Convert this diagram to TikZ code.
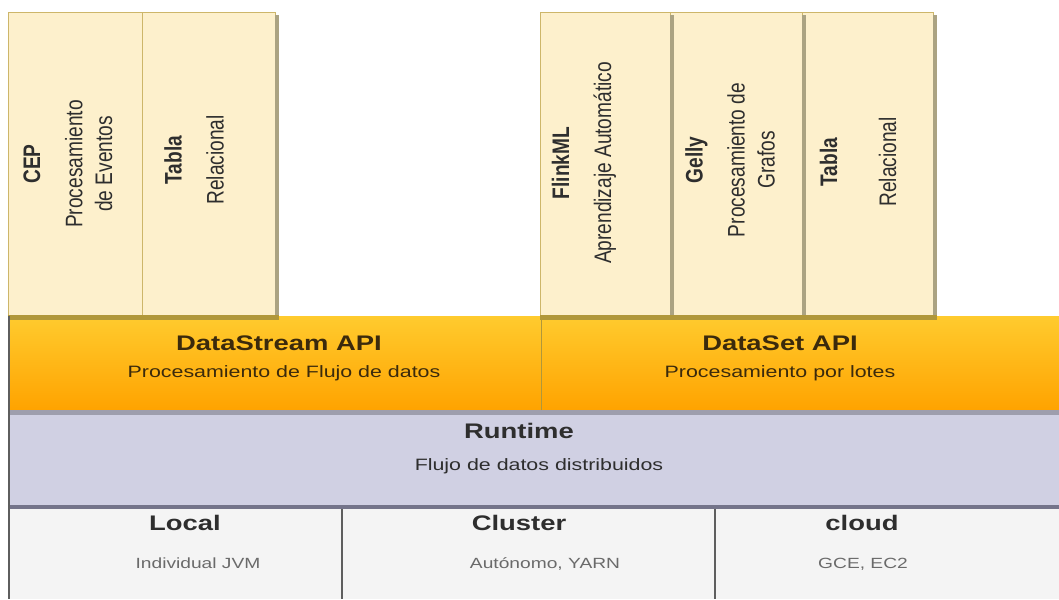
\documentclass[tikz,border=0pt]{standalone}
\usepackage{fontspec}
\setmainfont{Liberation Sans}
\newfontfamily\flatfont[FakeStretch=1.3]{Liberation Sans}
\newfontfamily\tallfont[FakeStretch=0.8]{Liberation Sans}
\usepackage{xcolor}
\usepackage{tikz}
\usetikzlibrary{positioning}
\definecolor{libcream}{HTML}{FDF0CC}
\definecolor{libedge}{HTML}{CDB66A}
\definecolor{libshadow}{HTML}{ABA382}
\definecolor{apitop}{HTML}{FFCB2E}
\definecolor{apibottom}{HTML}{FFA300}
\definecolor{apiedge}{HTML}{B0973A}
\definecolor{runfill}{HTML}{D0D0E3}
\definecolor{runedge}{HTML}{74748A}
\definecolor{deployfill}{HTML}{F4F4F4}
\definecolor{deployedge}{HTML}{5E5E5E}
\definecolor{inkbrown}{HTML}{3B2A0C}
\definecolor{inkgray}{HTML}{2E2E2E}
\definecolor{softink}{HTML}{6A6A6A}
\tikzset{
  libbox/.style={fill=libcream, draw=libedge, line width=0.6pt},
  libshade/.style={fill=libshadow},
  vtext/.style={rotate=90, align=center, text=inkgray, inner sep=0pt, font=\tallfont\fontsize{17}{21.3}\selectfont},
  apititle/.style={anchor=base, text=inkbrown, inner sep=0pt, font=\flatfont\bfseries\fontsize{15}{18}\selectfont},
  apisub/.style={anchor=base, text=inkbrown, inner sep=0pt, font=\flatfont\fontsize{11.7}{14}\selectfont},
  runtitle/.style={anchor=base, text=inkgray, inner sep=0pt, font=\flatfont\bfseries\fontsize{15}{18}\selectfont},
  runsub/.style={anchor=base, text=inkgray, inner sep=0pt, font=\flatfont\fontsize{11.7}{14}\selectfont},
  deploysub/.style={anchor=base, text=softink, inner sep=0pt, font=\flatfont\fontsize{10.5}{13}\selectfont}
}

\begin{document}
\begin{tikzpicture}[x=0.025cm, y=-0.025cm]
  \useasboundingbox (0,0) rectangle (1059,599);
  \foreach \xa/\xb in {8/142,142/275,540/670,670/802,802/933}{
    \filldraw[libbox] (\xa,12) rectangle (\xb,316);
  }
  \foreach \xb in {275,670,802,933}{
    \fill[libshade] (\xb,15) rectangle ({\xb+4},318);
  }
  \shade[top color=apitop, bottom color=apibottom] (8,316) rectangle (1059,410);
  \fill[apiedge] (8,315) rectangle (279,320);
  \fill[apiedge] (540,315) rectangle (937,320);
  \draw[apiedge, line width=0.5pt] (541,316) -- (541,410);
  \fill[runfill] (8,410) rectangle (1059,508);
  \fill[runedge!70] (8,410) rectangle (1059,415);
  \fill[runedge] (8,505) rectangle (1059,509);
  \fill[deployfill] (8,509) rectangle (1059,599);
  \draw[deployedge, line width=1.1pt] (342,509) -- (342,599);
  \draw[deployedge, line width=1.1pt] (715,509) -- (715,599);
  \draw[deployedge, line width=1.5pt] (9,316) -- (9,599);

  \node[vtext] (cep) at (68,164) {\textbf{CEP}\\[8.6pt]Procesamiento\\de Eventos};
  \node[vtext] (tablastream) at (194,160) {\textbf{Tabla}\\[8.6pt]Relacional};
  \node[vtext] (flinkml) at (584,163) {\textbf{FlinkML}\\[8.6pt]Aprendizaje Automático};
  \node[vtext] (gelly) at (730,160) {\textbf{Gelly}\\[8.6pt]Procesamiento de\\Grafos};
  \node[vtext] (tablaset) at (858,162) {\textbf{Tabla}\\[20.7pt]Relacional};

  \node[apititle] (datastream) at (279,350) {DataStream API};
  \node[apisub] (datastreamsub) at (284,377) {Procesamiento de Flujo de datos};
  \node[apititle] (dataset) at (780,350) {DataSet API};
  \node[apisub] (datasetsub) at (780,377) {Procesamiento por lotes};
  \node[runtitle] (runtime) at (519,438) {Runtime};
  \node[runsub] (runtimesub) at (539,470) {Flujo de datos distribuidos};
  \node[runtitle] (local) at (185,530) {Local};
  \node[deploysub] (localsub) at (198,568) {Individual JVM};
  \node[runtitle] (cluster) at (519,530) {Cluster};
  \node[deploysub] (clustersub) at (545,568) {Autónomo, YARN};
  \node[runtitle] (cloud) at (862,530) {cloud};
  \node[deploysub] (cloudsub) at (863,568) {GCE, EC2};
\end{tikzpicture}
\end{document}
